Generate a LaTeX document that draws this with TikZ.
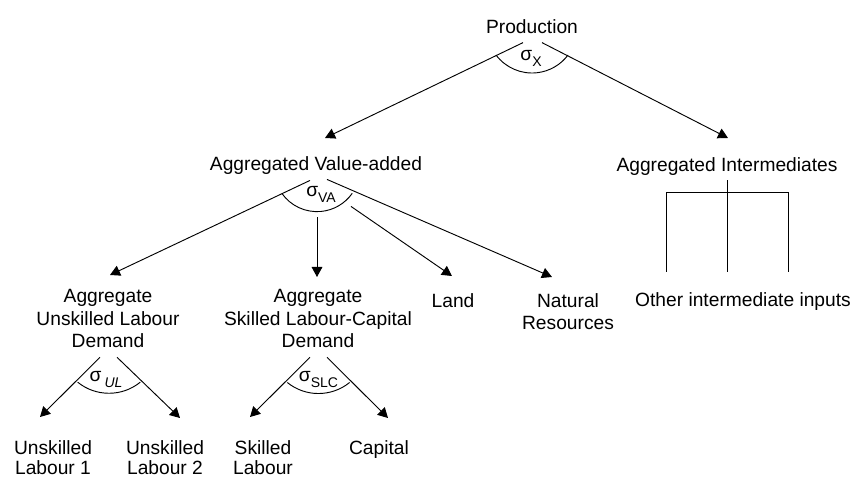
\documentclass[tikz,border=0pt]{standalone}
\usepackage{fontspec}
\setmainfont{Liberation Sans}
\usetikzlibrary{calc}
\usetikzlibrary{arrows.meta}
\newcommand{\lowsub}[1]{\raisebox{-4.5pt}{\fontsize{10.5}{12}\selectfont #1}}

\begin{document}
\begin{tikzpicture}[x=0.75pt, y=-0.75pt,
    font=\fontsize{14.4}{17}\selectfont,
    txt/.style={anchor=north, inner sep=0, align=center},
    sig/.style={anchor=base, inner sep=0},
    arr/.style={-{Triangle[length=7.5pt,width=8pt]}, line width=0.7pt}]
        \useasboundingbox (0,0) rectangle (853,477);

        % nodes %
        \node[txt] (prod) at (532,19) {Production};
        \node[txt] (va) at (316,156) {Aggregated Value-added};
        \node[txt] (ai) at (727,157) {Aggregated Intermediates};
        \node[txt] (ul) at (108,289) {Aggregate\\Unskilled Labour\\Demand};
        \node[txt] (slc) at (318,289) {Aggregate\\Skilled Labour-Capital\\Demand};
        \node[txt] (land) at (453,293) {Land};
        \node[txt] (nr) at (568,293) {Natural\\Resources};
        \node[txt] (oth) at (743,292) {Other intermediate inputs};
        \node[txt, font=\fontsize{14.4}{15}\selectfont] (ul1) at (53,440) {Unskilled\\Labour 1};
        \node[txt, font=\fontsize{14.4}{15}\selectfont] (ul2) at (165,440) {Unskilled\\Labour 2};
        \node[txt, font=\fontsize{14.4}{15}\selectfont] (skl) at (263,440) {Skilled\\Labour};
        \node[txt, font=\fontsize{14.4}{15}\selectfont] (cap) at (379,440) {Capital};

        % elasticities %
        \node[sig] (sx) at (531,61) {σ\lowsub{X}};
        \node[sig] (sva) at (321,197) {σ\lowsub{VA}};
        \node[sig] (sul) at (106,381) {σ\,\lowsub{\textit{UL}}};
        \node[sig] (sslc) at (318.5,381) {σ\lowsub{SLC}};
        \draw[line width=0.7pt] (496.1,55.1) arc[start angle=143, end angle=37, radius=45];
        \draw[line width=0.7pt] (281.8,193.3) arc[start angle=145, end angle=35, radius=43];
        \draw[line width=0.7pt] (77.7,382.2) arc[start angle=129, end angle=51, radius=49.7];
        \draw[line width=0.7pt] (287.3,382.5) arc[start angle=129, end angle=51, radius=49.5];

        % edges %
        \draw[arr] ($(prod.south)+(-9,9)$) -- ($(va.north)+(9,-18)$);
        \draw[arr] ($(prod.south)+(10,9)$) -- ($(ai.north)+(1,-19)$);
        \draw[arr] ($(va.south)+(-6,6)$) -- ($(ul.north)+(2,-14)$);
        \draw[arr] ($(va.south)+(1,43)$) -- ($(slc.north)+(-1,-12)$);
        \draw[arr] ($(va.south)+(35,32)$) -- ($(land.north)+(-1,-17)$);
        \draw[arr] ($(va.south)+(11,5)$) -- ($(nr.north)+(-16,-16)$);
        \draw[arr] ($(ul.south)+(-8,9)$) -- ($(ul1.north)+(-13,-23)$);
        \draw[arr] ($(ul.south)+(9,9)$) -- ($(ul2.north)+(15,-22)$);
        \draw[arr] ($(slc.south)+(-8,9)$) -- ($(skl.north)+(-13,-23)$);
        \draw[arr] ($(slc.south)+(9,9)$) -- ($(cap.north)+(9,-22)$);
        \draw[line width=0.7pt] ($(ai.south)+(0,5)$) -- ($(oth.north)+(-16,-20)$);
        \draw[line width=0.7pt] ($(oth.north)+(-77,-20)$) |- ($(oth.north)+(45,-100)$) -- ($(oth.north)+(45,-20)$);
      \end{tikzpicture}
\end{document}
